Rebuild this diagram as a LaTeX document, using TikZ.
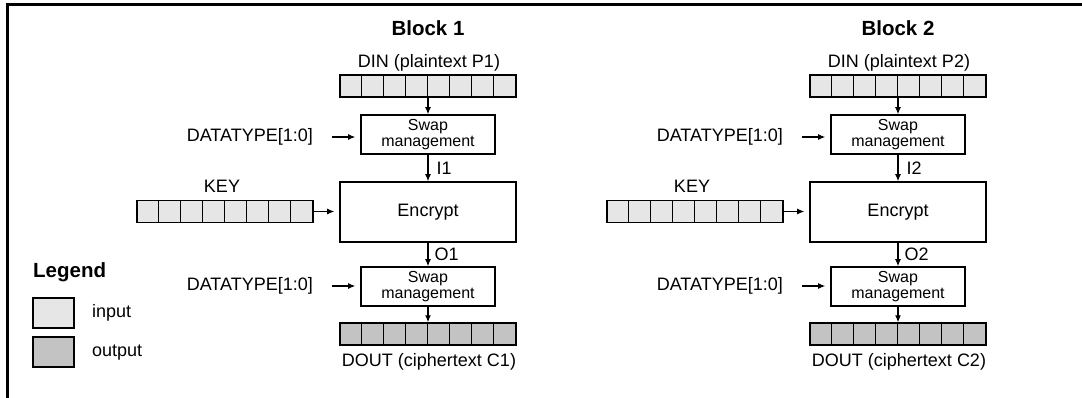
\documentclass[tikz,border=0pt]{standalone}
\usepackage{fontspec}
\setmainfont{Liberation Sans}
\usetikzlibrary{arrows.meta}

\definecolor{ingray}{RGB}{230,230,230}
\definecolor{outgray}{RGB}{195,195,195}

\tikzset{
  reg/.style={draw, line width=1.5pt, inner sep=0pt, minimum width=176pt, minimum height=22pt},
  inreg/.style={reg, fill=ingray},
  outreg/.style={reg, fill=outgray},
  swapbox/.style={draw, line width=1.6pt, align=center, inner sep=0pt,
    minimum width=134pt, minimum height=39pt, font=\fontsize{16}{16}\selectfont},
  lbl/.style={font=\fontsize{18}{20}\selectfont, inner sep=0pt},
  head/.style={font=\fontsize{20.5}{22}\selectfont\bfseries, inner sep=0pt},
  flow/.style={->, line width=1.1pt},
}

% the 8 cells of a register
\newcommand{\cells}[1]{\foreach \i in {1,...,7}
  \draw[line width=1.5pt] ([xshift=\i*22pt]#1.south west) -- ([xshift=\i*22pt]#1.north west);}

\begin{document}
\begin{tikzpicture}[x=1pt, y=-1pt, >={Latex[length=7pt,width=6pt]}]
  \useasboundingbox (0,0) rectangle (1082,398);
  \draw[line width=2.5pt] (1082,4.5) -- (7.5,4.5) -- (7.5,398);

  \foreach \b/\dx in {1/0, 2/470} {
    \begin{scope}[xshift=\dx pt]
      \node[head] (title\b) at (428,28) {Block \b};
      \node[lbl] (dinlbl\b) at (429,63) {DIN (plaintext P\b)};
      \node[inreg] (din\b) at (428,86) {};
      \cells{din\b}
      \node[swapbox] (swapin\b) at (428,134.5) {Swap\\management};
      \node[lbl, anchor=east] (dtin\b) at (313,137) {DATATYPE[1:0]};
      \node[draw, line width=1.6pt, minimum width=176pt, minimum height=60pt,
        font=\fontsize{18}{20}\selectfont] (enc\b) at (428,212) {Encrypt};
      \node[lbl] (keylbl\b) at (222,186) {KEY};
      \node[inreg] (key\b) at (225,211.5) {};
      \cells{key\b}
      \node[swapbox] (swapout\b) at (428,286.5) {Swap\\management};
      \node[lbl, anchor=east] (dtout\b) at (313,286) {DATATYPE[1:0]};
      \node[outreg] (dout\b) at (428,334) {};
      \cells{dout\b}
      \node[lbl] (doutlbl\b) at (429,362) {DOUT (ciphertext C\b)};

      \draw[flow] (din\b) -- (swapin\b);
      \draw[flow, shorten <=19pt, shorten >=5pt] (dtin\b.east) -- (dtin\b.east -| swapin\b.west);
      \draw[flow] (swapin\b) -- node[lbl, right=8pt] (i\b) {I\b} (enc\b);
      \draw[flow, shorten >=5pt] (key\b.east) -- (key\b.east -| enc\b.west);
      \draw[flow] (enc\b) -- node[lbl, right=6pt] (o\b) {O\b} (swapout\b);
      \draw[flow, shorten <=19pt, shorten >=5pt] (dtout\b.east) -- (dtout\b.east -| swapout\b.west);
      \draw[flow] (swapout\b) -- (dout\b);
    \end{scope}
  }

  % legend
  \node[head, anchor=west] (legend) at (33,272) {Legend};
  \node[reg, fill=ingray, minimum width=41pt, minimum height=30pt] (legin) at (53.5,313) {};
  \node[lbl, anchor=west] (leginlbl) at (92,313) {input};
  \node[reg, fill=outgray, minimum width=41pt, minimum height=30pt] (legout) at (53.5,352) {};
  \node[lbl, anchor=west] (legoutlbl) at (92,353) {output};
\end{tikzpicture}
\end{document}
